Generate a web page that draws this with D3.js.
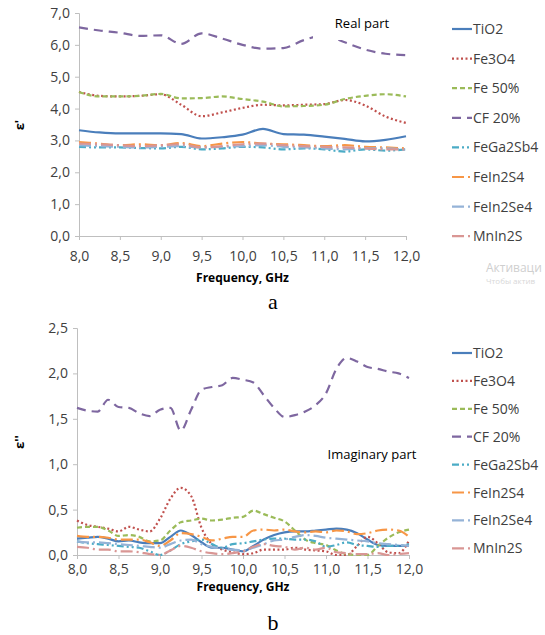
<!DOCTYPE html>
<html>
<head>
<meta charset="utf-8">
<script src="https://cdn.jsdelivr.net/npm/d3@7"></script>
<style>
  body { margin: 0; background: #fff; }
  text { font-family: "Open Sans", sans-serif; }
</style>
</head>
<body>
<svg id="chart" width="545" height="635"></svg>
<script>
// series names and styles
const names = ["TiO2", "Fe3O4", "Fe 50%", "CF 20%", "FeGa2Sb4", "FeIn2S4", "FeIn2Se4", "MnIn2S"];
const colors = ["#4A7EBB", "#C0504D", "#9BBB59", "#7E67A0", "#4BACC6", "#F79646", "#95B3D7", "#D99694"];
const dashes = ["none", "2 2.5", "5 3", "9 6", "7 3 2 3 2 3", "12 4 2 4", "12 4 2 4", "12 4 2 4"];

const xTicks = [8.0, 8.5, 9.0, 9.5, 10.0, 10.5, 11.0, 11.5, 12.0];
const yTicksRe = [0, 1, 2, 3, 4, 5, 6, 7];
const yTicksIm = [0, 0.5, 1.0, 1.5, 2.0, 2.5];

// real part, 0.25 GHz step
const freqRe = [8.0, 8.25, 8.5, 8.75, 9.0, 9.25, 9.5, 9.75, 10.0, 10.25, 10.5, 10.75, 11.0, 11.25, 11.5, 11.75, 12.0];
const tio2Re   = [3.32, 3.25, 3.22, 3.22, 3.22, 3.2, 3.06, 3.1, 3.18, 3.36, 3.2, 3.18, 3.12, 3.05, 2.97, 3.02, 3.13];
const fe3o4Re  = [4.52, 4.4, 4.38, 4.4, 4.45, 4.12, 3.76, 3.88, 4.02, 4.12, 4.1, 4.12, 4.14, 4.27, 4.1, 3.75, 3.55];
const fe50Re   = [4.52, 4.38, 4.38, 4.4, 4.46, 4.32, 4.33, 4.38, 4.3, 4.22, 4.07, 4.08, 4.12, 4.3, 4.4, 4.45, 4.38];
const cf20Re   = [6.55, 6.45, 6.38, 6.28, 6.3, 6.03, 6.36, 6.2, 6.0, 5.88, 5.9, 6.15, 6.3, 6.08, 5.85, 5.72, 5.68];
const fega2sb4Re = [2.8, 2.78, 2.78, 2.76, 2.75, 2.8, 2.72, 2.75, 2.8, 2.78, 2.72, 2.75, 2.72, 2.65, 2.72, 2.68, 2.72];
const fein2s4Re  = [2.95, 2.9, 2.85, 2.88, 2.85, 2.92, 2.82, 2.9, 2.95, 2.9, 2.88, 2.85, 2.82, 2.85, 2.8, 2.78, 2.75];
const fein2se4Re = [2.85, 2.82, 2.8, 2.78, 2.8, 2.82, 2.78, 2.8, 2.82, 2.85, 2.8, 2.78, 2.75, 2.72, 2.75, 2.75, 2.7];
const mnin2sRe   = [2.9, 2.88, 2.85, 2.82, 2.85, 2.88, 2.78, 2.82, 2.88, 2.9, 2.85, 2.82, 2.8, 2.78, 2.75, 2.72, 2.72];

// imaginary part, 0.125 GHz step
const freqIm = [8.0, 8.125, 8.25, 8.375, 8.5, 8.625, 8.75, 8.875, 9.0, 9.125, 9.25, 9.375, 9.5, 9.625, 9.75, 9.875,
                10.0, 10.125, 10.25, 10.375, 10.5, 10.625, 10.75, 10.875, 11.0, 11.125, 11.25, 11.375, 11.5, 11.625, 11.75, 11.875, 12.0];
const tio2Im   = [0.18, 0.19, 0.2, 0.18, 0.15, 0.16, 0.14, 0.13, 0.13, 0.2, 0.27, 0.22, 0.14, 0.08, 0.08, 0.06,
                  0.04, 0.1, 0.17, 0.22, 0.25, 0.26, 0.26, 0.27, 0.28, 0.29, 0.28, 0.24, 0.17, 0.11, 0.1, 0.1, 0.1];
const fe3o4Im  = [0.38, 0.33, 0.31, 0.29, 0.26, 0.31, 0.28, 0.26, 0.4, 0.62, 0.74, 0.65, 0.3, 0.12, 0.06, 0.03,
                  0.01, 0.02, 0.06, 0.06, 0.06, 0.08, 0.06, 0.05, 0.04, 0.0, 0.0, 0.1, 0.2, 0.13, 0.03, 0.02, 0.16];
const fe50Im   = [0.3, 0.31, 0.31, 0.27, 0.21, 0.22, 0.2, 0.15, 0.16, 0.27, 0.36, 0.38, 0.4, 0.38, 0.39, 0.41,
                  0.42, 0.49, 0.45, 0.41, 0.37, 0.27, 0.17, 0.13, 0.11, 0.05, 0.01, 0.0, 0.0, 0.1, 0.19, 0.25, 0.28];
const cf20Im   = [1.62, 1.59, 1.58, 1.71, 1.63, 1.62, 1.56, 1.53, 1.6, 1.62, 1.37, 1.6, 1.82, 1.85, 1.87, 1.95,
                  1.93, 1.9, 1.76, 1.62, 1.52, 1.54, 1.58, 1.65, 1.78, 2.05, 2.17, 2.13, 2.07, 2.05, 2.02, 2.0, 1.95];
const fega2sb4Im = [0.15, 0.13, 0.12, 0.11, 0.1, 0.09, 0.08, 0.04, 0.0, 0.05, 0.12, 0.15, 0.17, 0.12, 0.08, 0.12,
                    0.13, 0.15, 0.17, 0.18, 0.18, 0.17, 0.17, 0.15, 0.09, 0.11, 0.14, 0.11, 0.1, 0.09, 0.1, 0.1, 0.12];
const fein2s4Im  = [0.21, 0.2, 0.2, 0.19, 0.17, 0.17, 0.17, 0.14, 0.1, 0.16, 0.24, 0.23, 0.2, 0.16, 0.18, 0.2,
                    0.2, 0.27, 0.28, 0.27, 0.28, 0.26, 0.25, 0.26, 0.25, 0.27, 0.26, 0.23, 0.24, 0.27, 0.28, 0.27, 0.2];
const fein2se4Im = [0.15, 0.14, 0.14, 0.13, 0.12, 0.11, 0.1, 0.09, 0.08, 0.12, 0.16, 0.17, 0.12, 0.09, 0.07, 0.06,
                    0.05, 0.08, 0.12, 0.16, 0.17, 0.2, 0.22, 0.21, 0.19, 0.18, 0.17, 0.16, 0.15, 0.13, 0.12, 0.11, 0.1];
const mnin2sIm   = [0.09, 0.08, 0.06, 0.06, 0.04, 0.04, 0.03, 0.01, 0.0, 0.05, 0.1, 0.08, 0.04, 0.02, 0.01, 0.02,
                    0.04, 0.09, 0.12, 0.1, 0.09, 0.06, 0.08, 0.06, 0.08, 0.03, 0.02, 0.01, 0.01, 0.02, 0.0, 0.01, 0.02];

const realSeries = [tio2Re, fe3o4Re, fe50Re, cf20Re, fega2sb4Re, fein2s4Re, fein2se4Re, mnin2sRe];
const imagSeries = [tio2Im, fe3o4Im, fe50Im, cf20Im, fega2sb4Im, fein2s4Im, fein2se4Im, mnin2sIm];

const svg = d3.select("#chart");
svg.append("rect").attr("width", 545).attr("height", 635).attr("fill", "#fff");

const fmt = d => d3.format(".1f")(d).replace(".", ",");

function drawPanel(opts) {
   var x = d3.scaleLinear().domain([8, 12]).range([opts.left, opts.right]);
   var y = d3.scaleLinear().domain([0, opts.yMax]).range([opts.bottom, opts.top]);
   var g = svg.append("g");

   // axes
   var xAxis = g.append("g")
      .attr("transform", "translate(0," + opts.bottom + ")")
      .call(d3.axisBottom(x).tickValues(xTicks).tickFormat(fmt).tickSize(4).tickPadding(opts.xPad));
   var yAxis = g.append("g")
      .attr("transform", "translate(" + opts.left + ",0)")
      .call(d3.axisLeft(y).tickValues(opts.yTicks).tickFormat(fmt).tickSize(4).tickPadding(5));
   [xAxis, yAxis].forEach(a => {
      a.select(".domain").attr("stroke", "#BFBFBF");
      a.selectAll(".tick line").attr("stroke", "#BFBFBF");
      a.selectAll(".tick text").attr("fill", "#404040").style("font-size", "14px")
         .style("font-family", "'Open Sans', sans-serif");
   });

   // lines
   var line = d3.line().curve(d3.curveMonotoneX);
   opts.series.forEach((vals, i) => {
      g.append("path")
         .attr("d", line(vals.map((v, j) => [x(opts.freq[j]), y(v)])))
         .attr("fill", "none")
         .attr("stroke", colors[i])
         .attr("stroke-width", 2.2)
         .attr("stroke-dasharray", dashes[i]);
   });

   // chart label box (covers the line behind it)
   if (opts.boxW) {
      g.append("rect").attr("x", opts.boxX).attr("y", opts.boxY)
         .attr("width", opts.boxW).attr("height", opts.boxH).attr("fill", "#fff");
   }
   g.append("text").attr("x", opts.noteX).attr("y", opts.noteY)
      .attr("text-anchor", "middle").style("font-size", "13px").attr("fill", "#000")
      .text(opts.note);

   // x title
   g.append("text").attr("x", (opts.left + opts.right) / 2).attr("y", opts.xTitleY)
      .attr("text-anchor", "middle").style("font-size", "12px").style("font-weight", "bold")
      .attr("fill", "#000").text("Frequency, GHz");

   // y title
   g.append("text")
      .attr("transform", "translate(" + opts.yLabelX + "," + opts.yLabelY + ") rotate(-90)")
      .attr("text-anchor", "middle").style("font-size", "13px").style("font-weight", "bold")
      .attr("fill", "#000").text(opts.yLabel);

   // legend
   var leg = g.append("g");
   names.forEach((n, i) => {
      var ly = opts.legTop + i * opts.legStep;
      leg.append("line").attr("x1", 452).attr("x2", 472).attr("y1", ly).attr("y2", ly)
         .attr("stroke", colors[i]).attr("stroke-width", 2.2).attr("stroke-dasharray", dashes[i]);
      leg.append("text").attr("x", 473).attr("y", ly + 5).style("font-size", "14px")
         .attr("fill", "#404040").text(n);
   });

   // panel letter
   svg.append("text").attr("x", 273).attr("y", opts.letterY).attr("text-anchor", "middle")
      .style("font-family", "'Liberation Serif', serif").style("font-size", "22px")
      .attr("fill", "#000").text(opts.letter);
}

drawPanel({
   left: 79, right: 406, top: 13, bottom: 236, yMax: 7, yTicks: yTicksRe,
   freq: freqRe, series: realSeries, xPad: 11, xTitleY: 282,
   note: "Real part", noteX: 362, noteY: 28,
   boxX: 313, boxY: 8, boxW: 34, boxH: 32,
   yLabel: "ε'", yLabelX: 24, yLabelY: 125,
   legTop: 29, legStep: 29.6, letter: "a", letterY: 309
});

drawPanel({
   left: 77, right: 409, top: 328, bottom: 555, yMax: 2.5, yTicks: yTicksIm,
   freq: freqIm, series: imagSeries, xPad: 5, xTitleY: 591,
   note: "Imaginary  part", noteX: 372, noteY: 459,
   yLabel: "ε''", yLabelX: 24, yLabelY: 442,
   legTop: 353, legStep: 27.9, letter: "b", letterY: 630
});

// faint watermark text from the screenshot
svg.append("text").attr("x", 486).attr("y", 272).style("font-size", "12px").attr("fill", "#CFCFCF").text("Активаци");
svg.append("text").attr("x", 486).attr("y", 284).style("font-size", "8px").attr("fill", "#D8D8D8").text("Чтобы актив");
</script>
</body>
</html>
